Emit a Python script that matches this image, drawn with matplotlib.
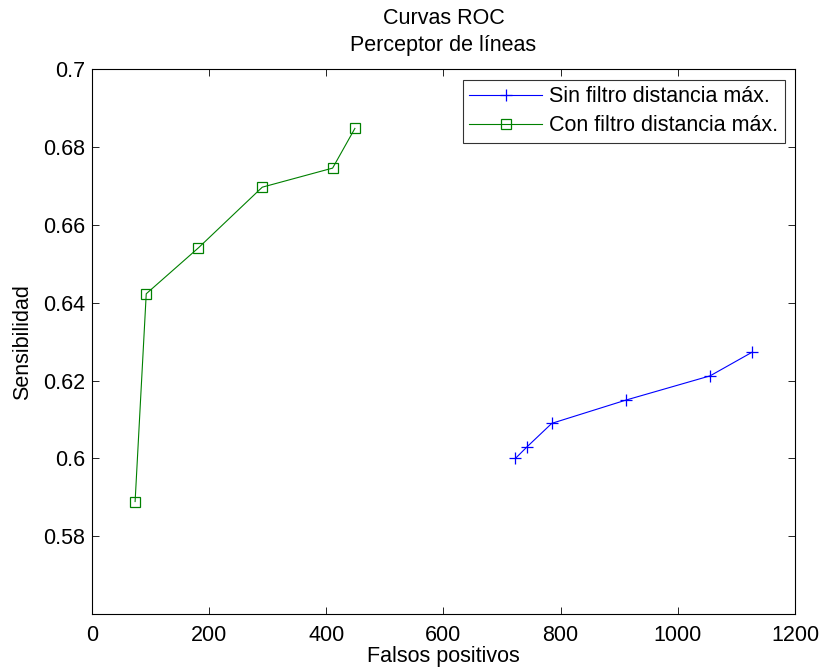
import matplotlib
matplotlib.use("Agg")
import matplotlib.pyplot as plt

# ROC data
fp_sin = [723, 743, 785, 912, 1055, 1127]
sens_sin = [0.600, 0.603, 0.609, 0.615, 0.6212, 0.6273]
fp_con = [74, 93, 182, 291, 411, 449]
sens_con = [0.5889, 0.6423, 0.6541, 0.6697, 0.6746, 0.6848]

xticks = [0, 200, 400, 600, 800, 1000, 1200]
yticks = [0.58, 0.6, 0.62, 0.64, 0.66, 0.68, 0.7]
ytick_labels = ["0.58", "0.6", "0.62", "0.64", "0.66", "0.68", "0.7"]

plt.rcParams['font.family'] = ['Liberation Sans', 'DejaVu Sans']
fs = 15.5

fig = plt.figure(figsize=(8.22, 6.70), dpi=100)
ax = fig.add_axes([0.1116, 0.0836, 0.8556, 0.813])

ax.plot(fp_sin, sens_sin, color=(0, 0, 1), lw=0.8, marker='+', ms=8.5,
        mew=0.9, label="Sin filtro distancia máx.")
ax.plot(fp_con, sens_con, color=(0, 0.5, 0), lw=0.8, marker='s', ms=7.7,
        mew=0.9, mfc='none', label="Con filtro distancia máx.")

ax.set_xlim(0, 1200)
ax.set_ylim(0.56, 0.7)
ax.set_xticks(xticks)
ax.set_yticks(yticks)
ax.set_yticklabels(ytick_labels)
ax.tick_params(direction='in', top=True, right=True, length=5, width=0.6,
               labelsize=fs)
ax.tick_params(axis='x', pad=8)
ax.tick_params(axis='y', pad=5)
for s in ax.spines.values():
    s.set_linewidth(0.8)

ax.set_xlabel("Falsos positivos", fontsize=fs, labelpad=0)
ax.set_ylabel("Sensibilidad", fontsize=fs, labelpad=7)
ax.set_title("Curvas ROC\nPerceptor de líneas", fontsize=fs, pad=13,
             linespacing=1.42)

leg = ax.legend(loc='upper right', fancybox=False, edgecolor='black',
                fontsize=fs, handlelength=3.4, borderaxespad=0.48,
                borderpad=0.3, labelspacing=0.38, handletextpad=0.32)
leg.get_frame().set_linewidth(0.8)

fig.savefig("out.png", dpi=100)
